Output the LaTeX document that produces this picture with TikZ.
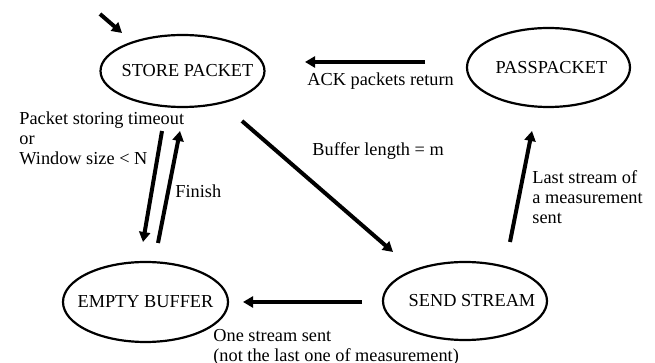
\documentclass[tikz,border=0pt]{standalone}
\usepackage{fontspec}
\setmainfont{Liberation Serif}
\usetikzlibrary{shapes.geometric,arrows.meta}

\begin{document}
\begin{tikzpicture}[x=0.5pt,y=-0.5pt,
  every node/.style={font=\fontsize{9.15pt}{10pt}\selectfont, inner sep=0pt},
  state/.style={ellipse, draw, line width=1.1pt},
  arr/.style={line width=2pt, -{Triangle[length=5pt,width=5.5pt]}},
  lbl/.style={anchor=base west},
  mlbl/.style={anchor=north west, align=left}]
\useasboundingbox (0,0) rectangle (655,363);

% states
\node[state, minimum width=82pt, minimum height=36pt] (store) at (182.5,71)
  {\makebox[0pt]{\hspace*{5pt}STORE PACKET}};
\node[state, minimum width=81.5pt, minimum height=39.5pt] (pass) at (548.5,67.5)
  {\makebox[0pt]{\hspace*{3pt}PASSPACKET}};
\node[state, minimum width=82.5pt, minimum height=40pt] (empty) at (145.5,302)
  {\makebox[0pt]{EMPTY BUFFER}};
\node[state, minimum width=82pt, minimum height=39pt] (send) at (465,301)
  {\makebox[0pt]{\hspace*{7pt}SEND STREAM}};

% arrow end points
\coordinate (init) at (100,14);
\coordinate (initE) at (122,33);
\coordinate (ackS) at (425,62);
\coordinate (ackE) at (305,62);
\coordinate (bufS) at (242,121);
\coordinate (bufE) at (393,252);
\coordinate (lastS) at (510,242);
\coordinate (lastE) at (532,131);
\coordinate (downS) at (162,131);
\coordinate (downE) at (143,242);
\coordinate (upS) at (158,243);
\coordinate (upE) at (180,131);
\coordinate (oneS) at (362,302);
\coordinate (oneE) at (243,302);

% transitions
\draw[arr] (init) -- (initE);
\draw[arr] (ackS) -- (ackE);
\draw[arr] (bufS) -- (bufE);
\draw[arr] (lastS) -- (lastE);
\draw[arr] (downS) -- (downE);
\draw[arr] (upS) -- (upE);
\draw[arr] (oneS) -- (oneE);

% transition labels
\node[lbl] (ackL) at (307,86) {ACK packets return};
\node[lbl] (bufL) at (312,156) {Buffer length = m};
\node[lbl] (finL) at (175,198) {Finish};
\node[mlbl] (timeL) at (19,111) {Packet storing timeout\\or\\Window size \textless{} N};
\node[mlbl] (lastL) at (532,170.5) {Last stream of\\a measurement\\sent};
\node[mlbl] (oneL) at (213,329) {One stream sent\\(not the last one of measurement)};
\end{tikzpicture}
\end{document}
